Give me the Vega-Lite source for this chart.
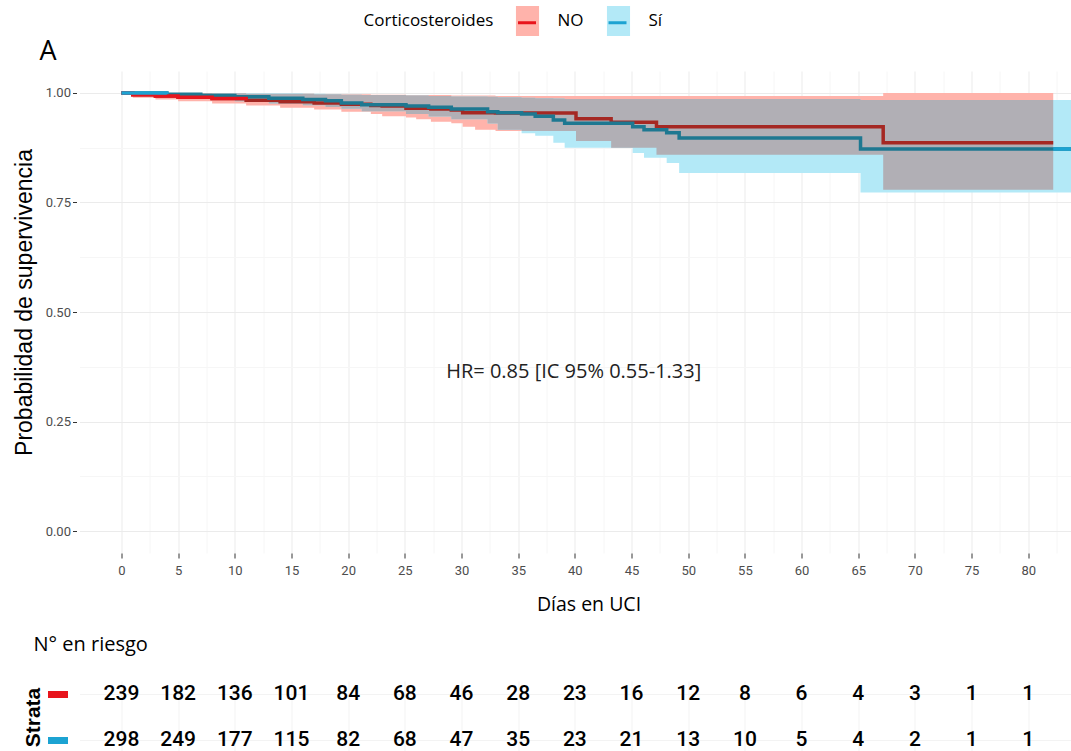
{
  "$schema": "https://vega.github.io/schema/vega-lite/v6.json",
  "autosize": {"type": "pad"},
  "padding": {"left": 13.5, "top": 6, "right": 0, "bottom": 0},
  "background": "white",
  "bounds": "flush",
  "spacing": 128,
  "config": {"view": {"stroke": null}, "font": "Open Sans"},
  "datasets": {
    "km": [
      {"grupo": "NO", "t": 0, "s": 1.0, "lo": 1.0, "hi": 1.0},
      {"grupo": "NO", "t": 1, "s": 0.996, "lo": 0.989, "hi": 1.0},
      {"grupo": "NO", "t": 3, "s": 0.993, "lo": 0.985, "hi": 1.0},
      {"grupo": "NO", "t": 5, "s": 0.99, "lo": 0.981, "hi": 1.0},
      {"grupo": "NO", "t": 8, "s": 0.987, "lo": 0.976, "hi": 0.999},
      {"grupo": "NO", "t": 11, "s": 0.983, "lo": 0.971, "hi": 0.998},
      {"grupo": "NO", "t": 14, "s": 0.98, "lo": 0.966, "hi": 0.998},
      {"grupo": "NO", "t": 17, "s": 0.977, "lo": 0.962, "hi": 0.997},
      {"grupo": "NO", "t": 19.4, "s": 0.974, "lo": 0.957, "hi": 0.997},
      {"grupo": "NO", "t": 22, "s": 0.971, "lo": 0.952, "hi": 0.996},
      {"grupo": "NO", "t": 23, "s": 0.97, "lo": 0.947, "hi": 0.996},
      {"grupo": "NO", "t": 25.1, "s": 0.965, "lo": 0.944, "hi": 0.995},
      {"grupo": "NO", "t": 26, "s": 0.965, "lo": 0.94, "hi": 0.995},
      {"grupo": "NO", "t": 27.3, "s": 0.963, "lo": 0.934, "hi": 0.995},
      {"grupo": "NO", "t": 29.1, "s": 0.961, "lo": 0.931, "hi": 0.994},
      {"grupo": "NO", "t": 30.1, "s": 0.955, "lo": 0.923, "hi": 0.994},
      {"grupo": "NO", "t": 31.2, "s": 0.955, "lo": 0.916, "hi": 0.994},
      {"grupo": "NO", "t": 33, "s": 0.954, "lo": 0.913, "hi": 0.993},
      {"grupo": "NO", "t": 40.1, "s": 0.941, "lo": 0.89, "hi": 0.993},
      {"grupo": "NO", "t": 43.2, "s": 0.933, "lo": 0.875, "hi": 0.993},
      {"grupo": "NO", "t": 47.2, "s": 0.923, "lo": 0.859, "hi": 0.993},
      {"grupo": "NO", "t": 67.2, "s": 0.886, "lo": 0.779, "hi": 1.0},
      {"grupo": "NO", "t": 82.2, "s": 0.886, "lo": 0.779, "hi": 1.0},
      {"grupo": "Sí", "t": 0, "s": 1.0, "lo": 1.0, "hi": 1.0},
      {"grupo": "Sí", "t": 4, "s": 0.997, "lo": 0.991, "hi": 1.0},
      {"grupo": "Sí", "t": 7, "s": 0.994, "lo": 0.986, "hi": 1.0},
      {"grupo": "Sí", "t": 10, "s": 0.991, "lo": 0.981, "hi": 0.999},
      {"grupo": "Sí", "t": 13, "s": 0.988, "lo": 0.976, "hi": 0.999},
      {"grupo": "Sí", "t": 16, "s": 0.985, "lo": 0.972, "hi": 0.998},
      {"grupo": "Sí", "t": 18, "s": 0.982, "lo": 0.968, "hi": 0.997},
      {"grupo": "Sí", "t": 19.4, "s": 0.977, "lo": 0.964, "hi": 0.996},
      {"grupo": "Sí", "t": 21.2, "s": 0.973, "lo": 0.958, "hi": 0.995},
      {"grupo": "Sí", "t": 25.1, "s": 0.97, "lo": 0.952, "hi": 0.994},
      {"grupo": "Sí", "t": 27.1, "s": 0.967, "lo": 0.946, "hi": 0.993},
      {"grupo": "Sí", "t": 29.1, "s": 0.963, "lo": 0.94, "hi": 0.992},
      {"grupo": "Sí", "t": 32.3, "s": 0.957, "lo": 0.93, "hi": 0.991},
      {"grupo": "Sí", "t": 33.2, "s": 0.955, "lo": 0.916, "hi": 0.99},
      {"grupo": "Sí", "t": 35.3, "s": 0.952, "lo": 0.908, "hi": 0.989},
      {"grupo": "Sí", "t": 36.5, "s": 0.947, "lo": 0.902, "hi": 0.988},
      {"grupo": "Sí", "t": 38.1, "s": 0.938, "lo": 0.886, "hi": 0.987},
      {"grupo": "Sí", "t": 39.1, "s": 0.931, "lo": 0.875, "hi": 0.986},
      {"grupo": "Sí", "t": 45.1, "s": 0.923, "lo": 0.863, "hi": 0.986},
      {"grupo": "Sí", "t": 46.1, "s": 0.916, "lo": 0.852, "hi": 0.986},
      {"grupo": "Sí", "t": 48.1, "s": 0.909, "lo": 0.84, "hi": 0.986},
      {"grupo": "Sí", "t": 49.2, "s": 0.897, "lo": 0.817, "hi": 0.986},
      {"grupo": "Sí", "t": 65.2, "s": 0.872, "lo": 0.773, "hi": 0.984},
      {"grupo": "Sí", "t": 82.2, "s": 0.872, "lo": 0.773, "hi": 0.984},
      {"grupo": "Sí", "t": 86, "s": 0.872, "lo": 0.773, "hi": 0.984}
    ],
    "solape": [
      {"t": 0, "lo": 1.0, "hi": 1.0},
      {"t": 4, "lo": 0.991, "hi": 1.0},
      {"t": 7, "lo": 0.986, "hi": 1.0},
      {"t": 8, "lo": 0.986, "hi": 0.999},
      {"t": 10, "lo": 0.981, "hi": 0.999},
      {"t": 11, "lo": 0.981, "hi": 0.998},
      {"t": 13, "lo": 0.976, "hi": 0.998},
      {"t": 16, "lo": 0.972, "hi": 0.998},
      {"t": 17, "lo": 0.972, "hi": 0.997},
      {"t": 18, "lo": 0.968, "hi": 0.997},
      {"t": 19.4, "lo": 0.964, "hi": 0.996},
      {"t": 21.2, "lo": 0.958, "hi": 0.995},
      {"t": 25.1, "lo": 0.952, "hi": 0.994},
      {"t": 27.1, "lo": 0.946, "hi": 0.993},
      {"t": 29.1, "lo": 0.94, "hi": 0.992},
      {"t": 32.3, "lo": 0.93, "hi": 0.991},
      {"t": 33.2, "lo": 0.916, "hi": 0.99},
      {"t": 35.3, "lo": 0.913, "hi": 0.989},
      {"t": 36.5, "lo": 0.913, "hi": 0.988},
      {"t": 38.1, "lo": 0.913, "hi": 0.987},
      {"t": 39.1, "lo": 0.913, "hi": 0.986},
      {"t": 40.1, "lo": 0.89, "hi": 0.986},
      {"t": 43.2, "lo": 0.875, "hi": 0.986},
      {"t": 47.2, "lo": 0.859, "hi": 0.986},
      {"t": 65.2, "lo": 0.859, "hi": 0.984},
      {"t": 67.2, "lo": 0.779, "hi": 0.984},
      {"t": 82.2, "lo": 0.779, "hi": 0.984}
    ],
    "riesgo": [
      {"grupo": "NO", "t": 0, "n": 239}, {"grupo": "NO", "t": 5, "n": 182}, {"grupo": "NO", "t": 10, "n": 136},
      {"grupo": "NO", "t": 15, "n": 101}, {"grupo": "NO", "t": 20, "n": 84}, {"grupo": "NO", "t": 25, "n": 68},
      {"grupo": "NO", "t": 30, "n": 46}, {"grupo": "NO", "t": 35, "n": 28}, {"grupo": "NO", "t": 40, "n": 23},
      {"grupo": "NO", "t": 45, "n": 16}, {"grupo": "NO", "t": 50, "n": 12}, {"grupo": "NO", "t": 55, "n": 8},
      {"grupo": "NO", "t": 60, "n": 6}, {"grupo": "NO", "t": 65, "n": 4}, {"grupo": "NO", "t": 70, "n": 3},
      {"grupo": "NO", "t": 75, "n": 1}, {"grupo": "NO", "t": 80, "n": 1},
      {"grupo": "Sí", "t": 0, "n": 298}, {"grupo": "Sí", "t": 5, "n": 249}, {"grupo": "Sí", "t": 10, "n": 177},
      {"grupo": "Sí", "t": 15, "n": 115}, {"grupo": "Sí", "t": 20, "n": 82}, {"grupo": "Sí", "t": 25, "n": 68},
      {"grupo": "Sí", "t": 30, "n": 47}, {"grupo": "Sí", "t": 35, "n": 35}, {"grupo": "Sí", "t": 40, "n": 23},
      {"grupo": "Sí", "t": 45, "n": 21}, {"grupo": "Sí", "t": 50, "n": 13}, {"grupo": "Sí", "t": 55, "n": 10},
      {"grupo": "Sí", "t": 60, "n": 5}, {"grupo": "Sí", "t": 65, "n": 4}, {"grupo": "Sí", "t": 70, "n": 2},
      {"grupo": "Sí", "t": 75, "n": 1}, {"grupo": "Sí", "t": 80, "n": 1}
    ],
    "nota": [{"t": 39.9, "s": 0.363, "label": "HR= 0.85 [IC 95% 0.55-1.33]"}]
  },
  "vconcat": [
    {
      "width": 993,
      "height": 482,
      "title": {"text": "A", "anchor": "start", "frame": "group", "dx": -40, "dy": 27, "fontSize": 27, "fontWeight": "normal", "font": "Open Sans", "color": "#000", "baseline": "alphabetic", "offset": 11},
      "encoding": {
        "x": {"field": "t", "type": "quantitative",
          "scale": {"domain": [-3.7, 83.9], "nice": false, "zero": false},
          "axis": {
            "values": [0, 2.5, 5, 7.5, 10, 12.5, 15, 17.5, 20, 22.5, 25, 27.5, 30, 32.5, 35, 37.5, 40, 42.5, 45, 47.5, 50, 52.5, 55, 57.5, 60, 62.5, 65, 67.5, 70, 72.5, 75, 77.5, 80, 82.5],
            "labelExpr": "datum.value % 5 == 0 ? datum.label : ''",
            "title": "Días en UCI", "titleFont": "Open Sans", "titleFontSize": 19.5, "titleFontWeight": "normal", "titleColor": "#000",
            "titleX": 509, "titlePadding": 18,
            "labelFont": "Roboto", "labelFontSize": 13, "labelColor": "#4d4d4d", "labelPadding": 6,
            "domain": false, "tickSize": 5,
            "tickColor": {"condition": {"test": "datum.value % 5 != 0", "value": "transparent"}, "value": "#333333"},
            "grid": true,
            "gridColor": {"condition": {"test": "datum.value % 5 != 0", "value": "#f6f6f6"}, "value": "#ebebeb"}
          }}
      },
      "layer": [
        {
          "data": {"name": "km"},
          "mark": {"type": "area", "interpolate": "step-after", "clip": true},
          "encoding": {
            "y": {"field": "lo", "type": "quantitative",
              "scale": {"domain": [-0.05, 1.05], "nice": false, "zero": false},
              "axis": {
                "values": [0, 0.125, 0.25, 0.375, 0.5, 0.625, 0.75, 0.875, 1],
                "format": ".2f",
                "labelExpr": "datum.value % 0.25 == 0 ? datum.label : ''",
                "title": "Probabilidad de supervivencia", "titleFont": "Liberation Sans", "titleFontSize": 23, "titleFontWeight": "normal", "titleColor": "#000",
                "titleX": -52, "titleY": 231, "titleBaseline": "middle", "titleAngle": -90, "titleAlign": "center",
                "labelFont": "Roboto", "labelFontSize": 13, "labelColor": "#4d4d4d", "labelPadding": 2,
                "domain": false, "tickSize": 4, "offset": 3,
                "tickColor": {"condition": {"test": "datum.value % 0.25 != 0", "value": "transparent"}, "value": "#333333"},
                "grid": true,
                "gridColor": {"condition": {"test": "datum.value % 0.25 != 0", "value": "#f6f6f6"}, "value": "#ebebeb"}
              }},
            "y2": {"field": "hi"},
            "fill": {"field": "grupo", "type": "nominal",
              "scale": {"range": ["#FFB3AB", "#B3E9F7"]},
              "legend": {
                "orient": "none", "legendX": 284, "legendY": -65, "direction": "horizontal",
                "title": "Corticosteroides", "titleOrient": "left", "titleColor": "#000", "titleFont": "Open Sans", "titleFontSize": 17, "titleFontWeight": "normal", "titlePadding": 19, "titleBaseline": "middle", "titleAnchor": "middle",
                "symbolType": "M-0.77,-1L0.77,-1L0.77,1L-0.77,1Z", "symbolSize": 900, "symbolStrokeWidth": 0, "symbolOpacity": 1,
                "labelColor": "#000", "labelFont": "Open Sans", "labelFontSize": 17, "labelOffset": 15, "columnPadding": 19,
                "padding": 0, "zindex": 1
              }}
          }
        },
        {
          "data": {"name": "solape"},
          "mark": {"type": "area", "interpolate": "step-after", "clip": true, "color": "#B1AFB5"},
          "encoding": {
            "y": {"field": "lo", "type": "quantitative"},
            "y2": {"field": "hi"}
          }
        },
        {
          "data": {"name": "km"},
          "mark": {"type": "line", "interpolate": "step-after", "strokeWidth": 3.5, "clip": true},
          "encoding": {
            "y": {"field": "s", "type": "quantitative"},
            "color": {"field": "grupo", "type": "nominal", "scale": {"range": ["#A52823", "#1E7891"]}, "legend": null}
          }
        },
        {
          "data": {"name": "km"},
          "transform": [{"filter": "(datum.grupo == 'NO' && datum.t <= 11) || (datum.grupo == 'Sí' && datum.t <= 4)"}],
          "mark": {"type": "line", "interpolate": "step-after", "strokeWidth": 3.5, "clip": true},
          "encoding": {
            "y": {"field": "s", "type": "quantitative"},
            "stroke": {"field": "grupo", "type": "nominal",
              "scale": {"domain": ["NO", "Sí"], "range": ["#E8141C", "#1CA3D2"]},
              "legend": {
                "orient": "none", "legendX": 431, "legendY": -65, "direction": "horizontal",
                "title": null,
                "symbolType": "M-0.6,0L0.6,0", "symbolSize": 900, "symbolStrokeWidth": 3, "symbolFillColor": "transparent",
                "labelExpr": "''", "labelOffset": 0, "columnPadding": 57.5,
                "padding": 0, "zindex": 3
              }}
          }
        },
        {
          "data": {"name": "km"},
          "transform": [{"filter": "datum.grupo == 'Sí' && datum.t >= 82.2"}],
          "mark": {"type": "line", "interpolate": "step-after", "strokeWidth": 3.5, "clip": true},
          "encoding": {
            "y": {"field": "s", "type": "quantitative"},
            "stroke": {"field": "grupo", "type": "nominal"}
          }
        },
        {
          "data": {"name": "nota"},
          "mark": {"type": "text", "font": "Open Sans", "fontSize": 20, "color": "#222222"},
          "encoding": {
            "y": {"field": "s", "type": "quantitative"},
            "text": {"field": "label"}
          }
        }
      ]
    },
    {
      "width": 993,
      "height": 72,
      "title": {"text": "N° en riesgo", "anchor": "start", "frame": "group", "dx": -46, "dy": 8, "fontSize": 20, "fontWeight": "normal", "font": "Open Sans", "color": "#000", "baseline": "alphabetic", "offset": 18},
      "data": {"name": "riesgo"},
      "mark": {"type": "text", "font": "Roboto", "fontSize": 21, "fontWeight": 500, "color": "#000"},
      "encoding": {
        "x": {"field": "t", "type": "quantitative",
          "scale": {"domain": [-3.7, 83.9], "nice": false, "zero": false},
          "axis": {"values": [0, 5, 10, 15, 20, 25, 30, 35, 40, 45, 50, 55, 60, 65, 70, 75, 80], "labels": false, "ticks": false, "domain": false, "title": null, "grid": true, "gridColor": "#f3f3f3"}},
        "y": {"field": "grupo", "type": "nominal", "sort": ["NO", "Sí"],
          "scale": {"type": "point", "padding": 0.266},
          "axis": {
            "title": "Strata", "titleFont": "Liberation Sans", "titleFontSize": 21, "titleFontWeight": "bold", "titleColor": "#000", "titlePadding": 1,
            "labels": false, "domain": false, "offset": 12, "tickSize": 20, "tickWidth": 7,
            "tickColor": {"condition": {"test": "datum.value == 'NO'", "value": "#E8141C"}, "value": "#1CA3D2"},
            "grid": true, "gridColor": "#f3f3f3"
          }},
        "text": {"field": "n", "type": "quantitative"}
      }
    }
  ]
}
